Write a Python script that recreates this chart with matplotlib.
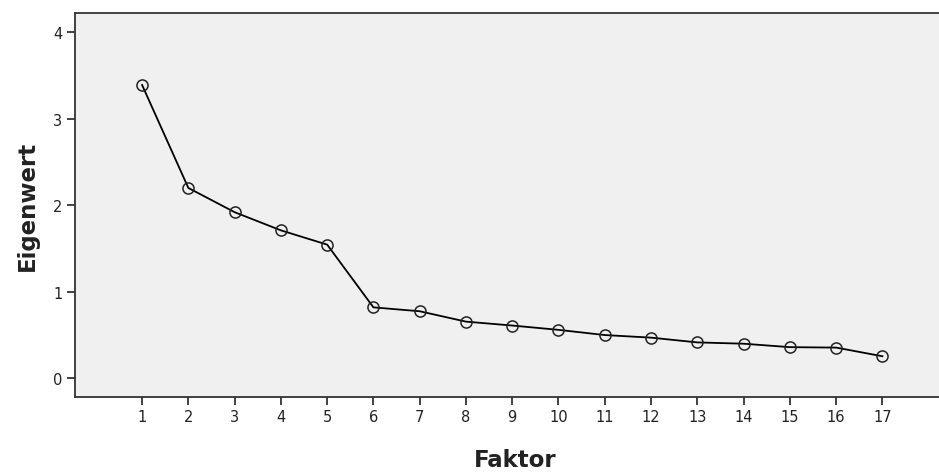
import matplotlib.pyplot as plt

# Scree plot data
faktor = list(range(1, 18))
eigenwert = [3.39, 2.20, 1.92, 1.71, 1.545, 0.82, 0.775, 0.655, 0.61, 0.56,
             0.50, 0.47, 0.415, 0.40, 0.36, 0.355, 0.255]
y_ticks = [0, 1, 2, 3, 4]

fig = plt.figure(figsize=(9.39, 4.77), dpi=100)
# right edge of the frame runs past the image, as in the original
ax = fig.add_axes([75 / 939, 79 / 477, 880 / 939, 384 / 477])
ax.set_facecolor('#f0f0f0')

ax.plot(faktor, eigenwert, color='black', linewidth=1.3, marker='o',
        markersize=8, markerfacecolor='none', markeredgecolor='#222222',
        markeredgewidth=1.1)

ax.set_xlim(-0.45, 18.57)
ax.set_ylim(-0.216, 4.222)
ax.set_xticks(faktor)
ax.set_yticks(y_ticks)
ax.tick_params(direction='out', length=6, width=1.3, color='#333333',
               labelsize=10.5, labelcolor='#222222', pad=3)

for side in ['left', 'bottom', 'top', 'right']:
    ax.spines[side].set_color('#333333')
    ax.spines[side].set_linewidth(1.3)

ax.set_xlabel('Faktor', fontsize=16.5, fontweight='bold', labelpad=17,
              color='#222222')
ax.set_ylabel('Eigenwert', fontsize=16.5, fontweight='bold', labelpad=10,
              color='#222222')

fig.savefig('out.png', dpi=100)
